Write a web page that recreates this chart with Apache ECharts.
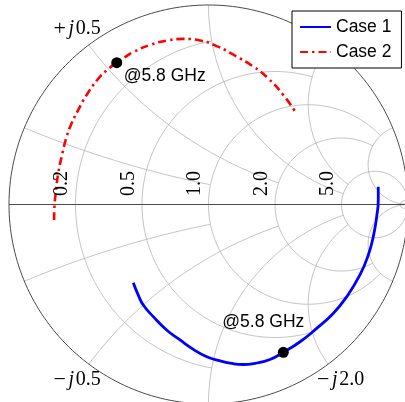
<!DOCTYPE html>
<html>
<head>
<meta charset="utf-8">
<script src="https://cdn.jsdelivr.net/npm/echarts@6/dist/echarts.min.js"></script>
<style>
  html, body { margin: 0; padding: 0; background: #ffffff; }
  #chart { width: 405px; height: 402px; }
</style>
</head>
<body>
<div id="chart"></div>
<script>
// Smith chart grid: normalized resistance circles and reactance arcs
const resistanceTicks = [0.2, 0.5, 1, 2, 5];
const resistanceTickLabels = ['0.2', '0.5', '1.0', '2.0', '5.0'];
const resistanceStopAtX = [1, 2, 5, 5, Infinity];   // |x| where each circle ends
const reactanceTicks = [0.2, 0.5, 1, 2, 5];
const reactanceStopAtR = [1, 2, 5, 5, Infinity];    // r where each arc ends
const centreMarkR = 50;                              // tiny circle near the open-circuit point

// Reactance labels on the rim
const rimLabelValues = [0.5, -0.5, 2, -2];
const rimLabelSigns = ['+', '\u2212', '+', '\u2212'];
const rimLabelDigits = ['0.5', '0.5', '2.0', '2.0'];

// Reflection coefficient traces (Re, Im)
const case1Re = [-0.377, -0.352, -0.327, -0.277, -0.210, -0.143, -0.076, -0.009, 0.058, 0.124, 0.173, 0.233, 0.308, 0.375, 0.459, 0.542, 0.626, 0.693, 0.759, 0.801, 0.826, 0.843, 0.851, 0.851];
const case1Im = [-0.392, -0.454, -0.504, -0.562, -0.629, -0.679, -0.726, -0.763, -0.784, -0.798, -0.802, -0.796, -0.777, -0.741, -0.688, -0.621, -0.545, -0.462, -0.353, -0.253, -0.161, -0.061, 0.023, 0.089];
const case2Re = [-0.774, -0.773, -0.764, -0.753, -0.736, -0.711, -0.686, -0.653, -0.611, -0.554, -0.509, -0.460, -0.419, -0.377, -0.293, -0.210, -0.126, -0.043, 0.041, 0.123, 0.225, 0.292, 0.375, 0.442];
const case2Im = [-0.078, -0.028, 0.073, 0.158, 0.240, 0.340, 0.407, 0.474, 0.549, 0.629, 0.674, 0.711, 0.739, 0.764, 0.800, 0.821, 0.830, 0.822, 0.794, 0.752, 0.691, 0.639, 0.549, 0.454];

// Operating point of each case
const markerFreqLabel = '@5.8 GHz';
const case1MarkerIndex = 13;
const case2MarkerIndex = 11;

const seriesNames = ['Case 1', 'Case 2'];

function gamma(r, x) {
  const d = (r + 1) * (r + 1) + x * x;
  return [(r * r + x * x - 1) / d, 2 * x / d];
}
function resistanceCurve(r, xLimit) {
  const pts = [];
  const t = Math.atan(xLimit);
  const n = 260;
  for (let k = 0; k <= n; k++) {
    const th = -t + 2 * t * k / n;
    pts.push(gamma(r, Math.tan(th)));
  }
  return pts;
}
function reactanceCurve(x, rLimit) {
  const pts = [];
  const t = Math.atan(rLimit);
  const n = 260;
  for (let k = 0; k <= n; k++) {
    pts.push(gamma(Math.tan(t * k / n), x));
  }
  return pts;
}
function zip(a, b) { return a.map((v, i) => [v, b[i]]); }

const gridColor = '#b4b4b4';
const rimColor = '#4a4a4a';

function gridLine(data, color, width, z) {
  return {
    type: 'line', data: data, showSymbol: false, symbol: 'none', silent: true,
    smooth: false, z: z || 1, animation: false, clip: false,
    lineStyle: { color: color, width: width }
  };
}

const series = [];
resistanceTicks.forEach((r, i) => series.push(gridLine(resistanceCurve(r, resistanceStopAtX[i]), gridColor, 0.8)));
reactanceTicks.forEach((x, i) => {
  series.push(gridLine(reactanceCurve(x, reactanceStopAtR[i]), gridColor, 0.8));
  series.push(gridLine(reactanceCurve(-x, reactanceStopAtR[i]), gridColor, 0.8));
});
series.push(gridLine(resistanceCurve(centreMarkR, Infinity), gridColor, 0.8));
// rim and real axis
series.push(gridLine(resistanceCurve(0, Infinity), rimColor, 1, 2));
series.push(gridLine([[-1, 0], [1, 0]], rimColor, 1, 2));

const case1 = zip(case1Re, case1Im);
const case2 = zip(case2Re, case2Im);

series.push({
  name: seriesNames[0], type: 'line', data: case1, symbol: 'none', showSymbol: false,
  smooth: 0.5, z: 5, animation: false,
  lineStyle: { color: '#0000ff', width: 2.8 }, itemStyle: { color: '#0000ff' }
});
series.push({
  name: seriesNames[1], type: 'line', data: case2, symbol: 'none', showSymbol: false,
  smooth: 0.5, z: 5, animation: false,
  lineStyle: { color: '#ff0000', width: 2.6, type: [8, 4, 2.5, 4], cap: 'butt' },
  itemStyle: { color: '#ff0000' }
});

const labelFont = { fontFamily: 'Liberation Sans', fontSize: 17.5, color: '#000000' };
series.push({
  type: 'scatter', silent: true, z: 6, animation: false, symbolSize: 11,
  itemStyle: { color: '#000000', opacity: 1 },
  data: [
    { value: case1[case1MarkerIndex], label: { offset: [-61, -30] } },
    { value: case2[case2MarkerIndex], label: { offset: [7, 14] } }
  ],
  label: Object.assign({
    show: true, position: 'inside', align: 'left', verticalAlign: 'middle',
    formatter: markerFreqLabel
  }, labelFont)
});

// resistance values written upright along the real axis
series.push({
  type: 'custom', coordinateSystem: 'cartesian2d', silent: true, z: 7, animation: false,
  data: resistanceTicks.map((r, i) => [(r - 1) / (r + 1), 0, i]),
  renderItem: function (params, api) {
    const p = api.coord([api.value(0), api.value(1)]);
    return {
      type: 'text', x: p[0] - 13.5, y: p[1] - 8.5, rotation: Math.PI / 2,
      style: {
        text: resistanceTickLabels[api.value(2)], fontFamily: 'Liberation Serif', fontSize: 20,
        fill: '#000', align: 'left', verticalAlign: 'middle'
      }
    };
  }
});

// reactance values just outside the rim
series.push({
  type: 'custom', coordinateSystem: 'cartesian2d', silent: true, z: 7, animation: false,
  data: rimLabelValues.map((x, i) => { const g = gamma(0, x); return [g[0], g[1], i]; }),
  renderItem: function (params, api) {
    const gx = api.value(0), gy = api.value(1), i = api.value(2);
    const p = api.coord([gx, gy]);
    const len = Math.hypot(gx, gy);
    return {
      type: 'text', x: p[0] + 20 * gx / len, y: p[1] - 20 * gy / len,
      style: {
        text: '{s|' + rimLabelSigns[i] + '}{j|j}{n|' + rimLabelDigits[i] + '}',
        fontFamily: 'Liberation Serif', fontSize: 20, fill: '#000',
        align: 'center', verticalAlign: 'middle',
        rich: {
          s: { fontFamily: 'Liberation Serif', fontSize: 22, width: 14, align: 'center' },
          j: { fontFamily: 'Liberation Serif', fontSize: 20, fontStyle: 'italic', width: 9, align: 'center' },
          n: { fontFamily: 'Liberation Serif', fontSize: 20 }
        }
      }
    };
  }
});

const chart = echarts.init(document.getElementById('chart'));
chart.setOption({
  animation: false,
  backgroundColor: '#ffffff',
  grid: { left: 9, top: 5, width: 399, height: 399, containLabel: false, outerBoundsMode: 'none' },
  xAxis: { type: 'value', min: -1, max: 1, show: false },
  yAxis: { type: 'value', min: -1, max: 1, show: false },
  legend: {
    data: seriesNames, orient: 'vertical', left: 292, top: 11,
    padding: [6, 10, 6, 7], itemGap: 5, itemWidth: 31, itemHeight: 14,
    backgroundColor: '#ffffff', borderColor: '#000000', borderWidth: 1, borderRadius: 0,
    textStyle: { fontFamily: 'Liberation Sans', fontSize: 17.5, color: '#000', lineHeight: 20 },
    itemStyle: { opacity: 0 },
    z: 20, selectedMode: false
  },
  series: series
});
</script>
</body>
</html>
